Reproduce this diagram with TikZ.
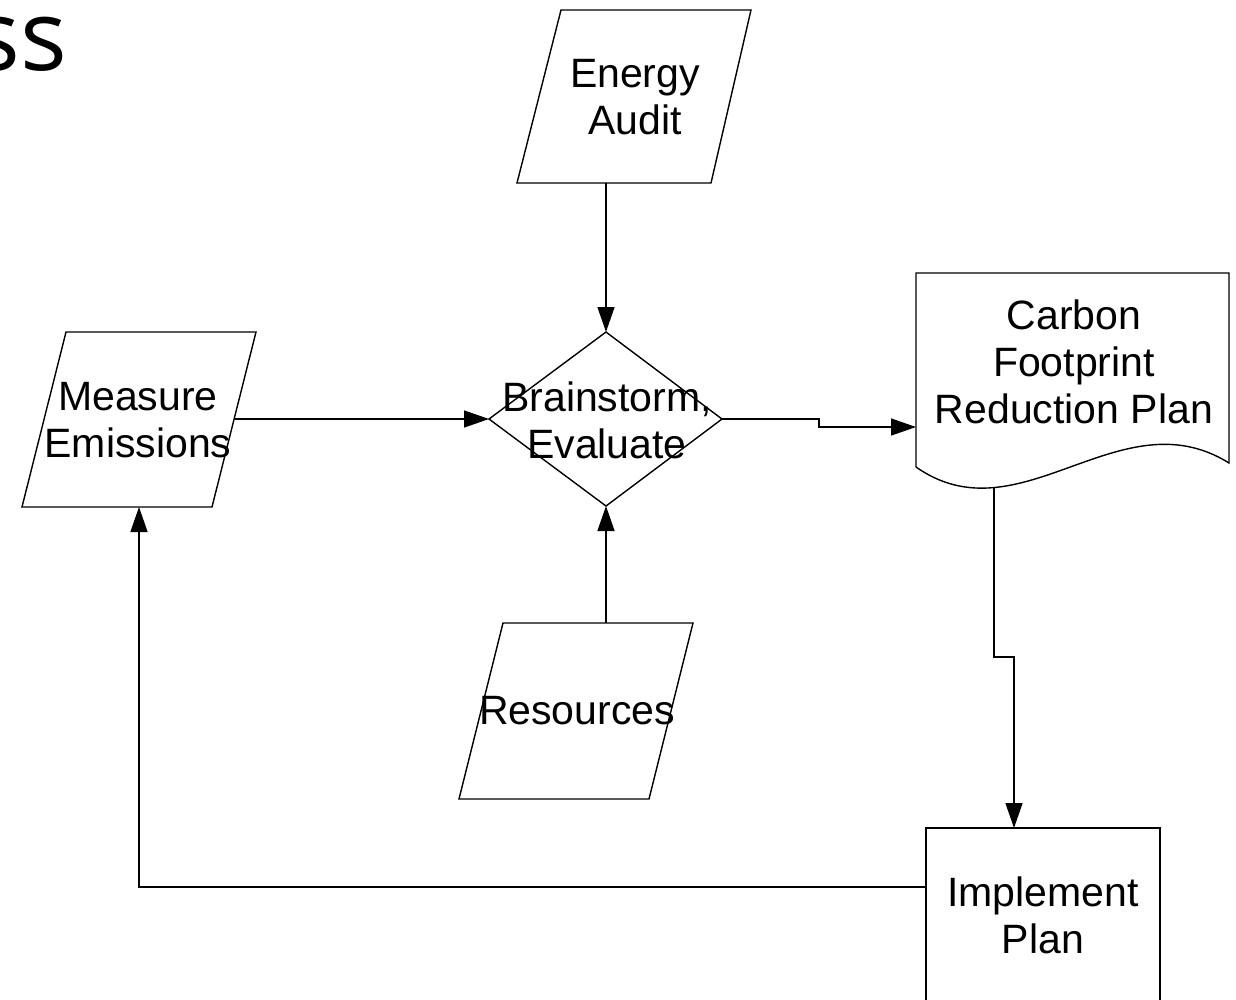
\documentclass[tikz,border=0pt]{standalone}
\usepackage{fontspec}
\setmainfont{Liberation Sans}
\newfontfamily\titlefont{Open Sans}
\usetikzlibrary{arrows.meta}
\tikzset{
  shp/.style={draw=black, line width=1.4pt, line join=miter},
  txt/.style={font=\fontsize{41}{47}\selectfont, align=center, inner sep=0pt},
  arr/.style={draw=black, line width=1.4pt, -{Triangle[length=25pt,width=17pt]}},
  con/.style={draw=black, line width=1.4pt}
}
\begin{document}
\begin{tikzpicture}[x=1pt,y=-1pt]
\useasboundingbox (0,0) rectangle (1236,999);
% title fragment
\node[anchor=base east, inner sep=0pt, font=\titlefont\fontsize{98}{104}\selectfont] (title) at (67,70) {ss};
% Energy Audit
\draw[shp] (561,10) -- (751,10) -- (711,183) -- (517,183) -- cycle;
\node[txt] (ea) at (635,97) {Energy\\Audit};
\coordinate (eab) at (606,183);
% Diamond
\draw[shp] (606,332) -- (722,419) -- (606,506) -- (489,419) -- cycle;
\node[txt] (dm) at (607,420) {Brainstorm,\\Evaluate};
\coordinate (dmt) at (606,332);
\coordinate (dml) at (489,419);
\coordinate (dmr) at (722,419);
\coordinate (dmb) at (606,506);
% Measure Emissions
\draw[shp] (66,332) -- (256,332) -- (212,507) -- (22,507) -- cycle;
\node[txt] (me) at (138,420) {Measure\\Emissions};
\coordinate (mer) at (235,419);
\coordinate (meb) at (139,507);
% Resources
\draw[shp] (503,623) -- (693,623) -- (649,799) -- (459,799) -- cycle;
\node[txt] (rs) at (577,711) {Resources};
\coordinate (rst) at (606,623);
% Document
\draw[shp] (916,467) -- (916,273) -- (1229,273) -- (1229,463)
  .. controls (1120,395) and (1020,540) .. (916,467);
\node[txt] (cf) at (1074,362) {Carbon\\Footprint\\Reduction Plan};
\coordinate (cfl) at (916,427);
\coordinate (cfb) at (994,487);
% Implement Plan
\draw[shp] (926,1010) -- (926,828) -- (1160,828) -- (1160,1010);
\node[txt] (ip) at (1043,915) {Implement\\Plan};
\coordinate (ipt) at (1014,828);
\coordinate (ipl) at (926,887);
% connectors
\draw[arr] (eab) -- (dmt);
\draw[arr] (mer) -- (dml);
\draw[arr] (rst) -- (dmb);
\draw[arr] (dmr) -- (819,419) -- (819,427) -- (cfl);
\draw[arr] (cfb) -- (994,657) -- (1014,657) -- (ipt);
\draw[arr] (ipl) -- (139,887) -- (meb);
\end{tikzpicture}
\end{document}
